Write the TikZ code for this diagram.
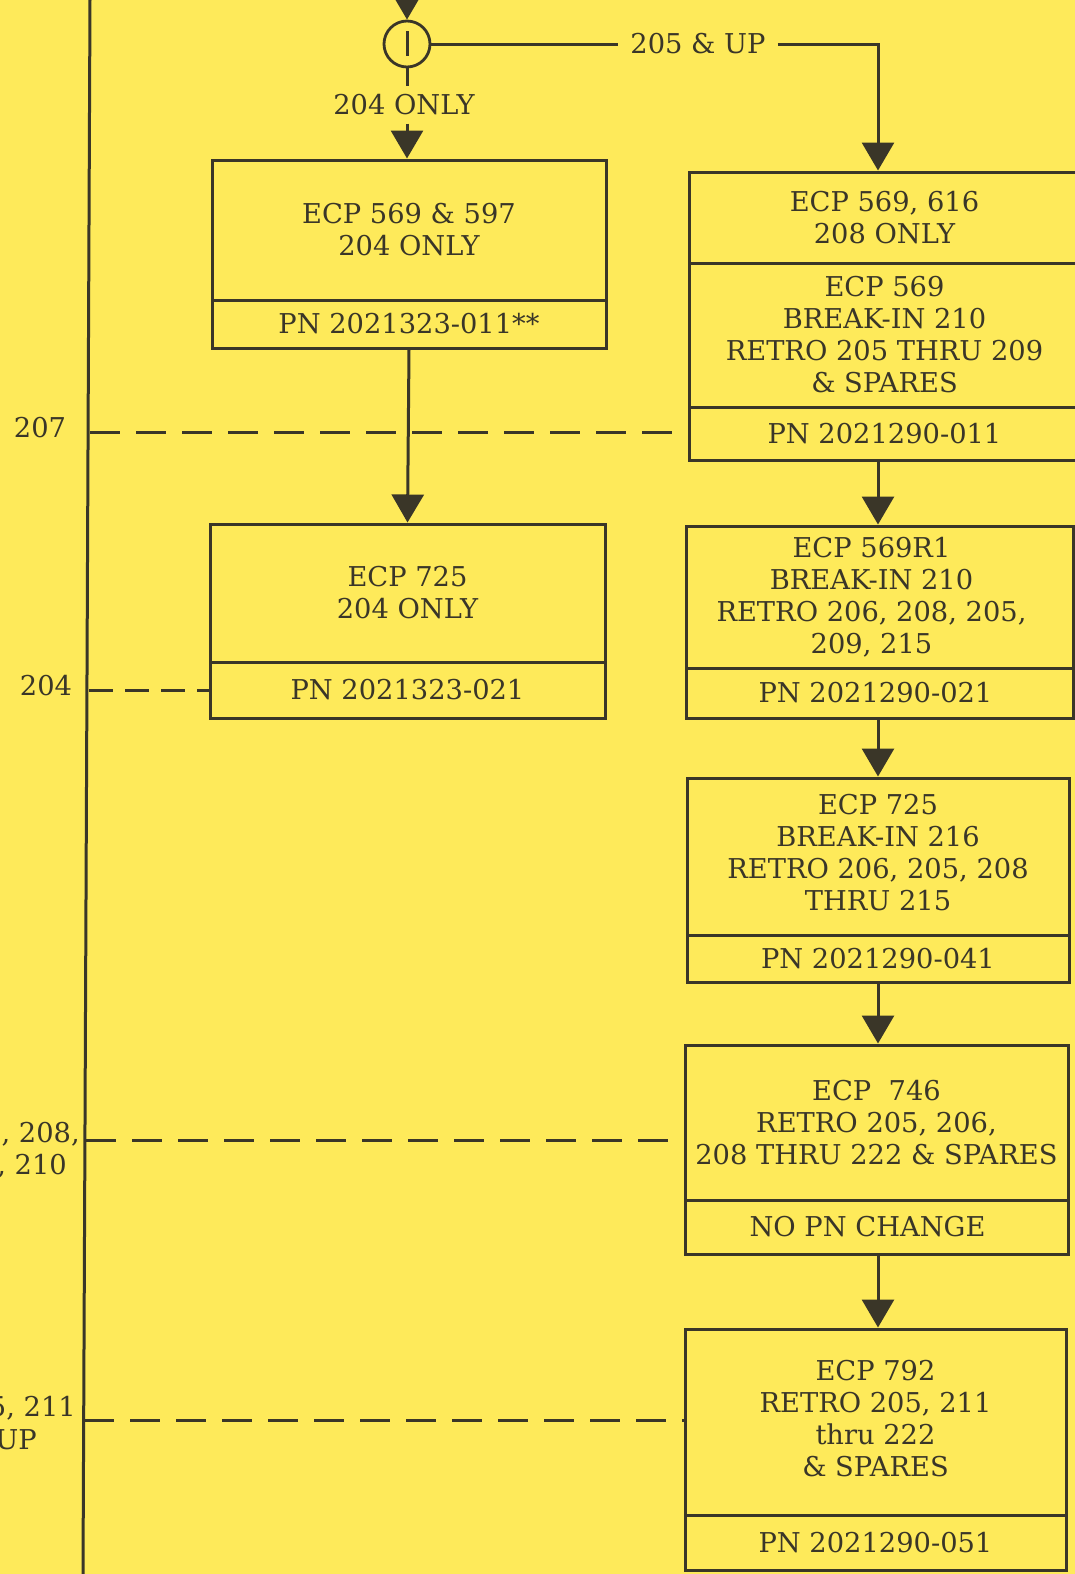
\documentclass[tikz,border=0pt]{standalone}
\usepackage{fontspec}
\setmainfont{DejaVu Serif}
\usetikzlibrary{arrows.meta,calc}
\definecolor{paper}{RGB}{254,234,90}
\definecolor{ink}{RGB}{58,54,40}
\begin{document}
\begin{tikzpicture}[x=1pt,y=-1pt,
  every node/.style={text=ink,font=\fontsize{27.3}{32}\selectfont},
  cell/.style={draw=ink,line width=3pt,rectangle,inner sep=0pt,align=center},
  ln/.style={draw=ink,line width=3pt},
  arr/.style={ln,-{Triangle[width=32pt,length=28pt]}},
  dsh/.style={ln,dash pattern=on 30pt off 16pt},
  lbl/.style={inner sep=0pt}]
\fill[paper] (0,0) rectangle (1075,1574);
\useasboundingbox (0,0) rectangle (1075,1574);
\clip (0,0) rectangle (1075,1574);

% left vertical line
\coordinate (vtop) at (90,0);
\coordinate (vbot) at (83,1574);
\draw[ln] (vtop) -- (vbot);

% switch circle
\node[draw=ink,line width=2.8pt,circle,minimum size=46pt,inner sep=0pt] (sw) at (407,44) {};
\draw[ln] ([yshift=13pt]sw.center) -- ([yshift=-12pt]sw.center);
\coordinate (intop) at (407,-40);
\draw[arr] (intop) -- (sw.north);

\node[lbl,inner xsep=12pt] (up) at (698,44) {205 \& UP};
\node[lbl,inner ysep=8pt] (only) at (404,105) {204 ONLY};

% left column
\node[cell,minimum width=394pt,minimum height=140pt] (L1a) at (409,230) {ECP 569 \& 597\\204 ONLY};
\node[cell,minimum width=394pt,minimum height=48pt] (L1b) at (409,324) {PN 2021323-011**};
\node[cell,minimum width=395pt,minimum height=138pt] (L2a) at (407.5,593) {ECP 725\\204 ONLY};
\node[cell,minimum width=395pt,minimum height=56pt] (L2b) at (407.5,690) {PN 2021323-021};

% right column
\node[cell,minimum width=391pt,minimum height=91pt] (A1) at (884.5,217.5) {ECP 569, 616\\208 ONLY};
\node[cell,minimum width=391pt,minimum height=144pt] (A2) at (884.5,335) {ECP 569\\BREAK-IN 210\\RETRO 205 THRU 209\\\& SPARES};
\node[cell,minimum width=391pt,minimum height=53pt] (A3) at (884.5,433.5) {PN 2021290-011};

\node[cell,minimum width=387pt,minimum height=142pt] (B1) at (879.5,597) {\hspace*{-16pt}ECP 569R1\\\hspace*{-16pt}BREAK-IN 210\\\hspace*{-16pt}RETRO 206, 208, 205,\\\hspace*{-16pt}209, 215};
\node[cell,minimum width=387pt,minimum height=50pt] (B2) at (879.5,693) {\hspace*{-8pt}PN 2021290-021};

\node[cell,minimum width=382pt,minimum height=157pt] (C1) at (878,856.5) {\raisebox{6pt}{\begin{tabular}{@{}c@{}}ECP 725\\BREAK-IN 216\\RETRO 206, 205, 208\\THRU 215\end{tabular}}};
\node[cell,minimum width=382pt,minimum height=47pt] (C2) at (878,958.5) {PN 2021290-041};

\node[cell,minimum width=383pt,minimum height=155pt] (D1) at (876.5,1122.5) {ECP~~746\\RETRO 205, 206,\\208 THRU 222 \& SPARES};
\node[cell,minimum width=383pt,minimum height=54pt] (D2) at (876.5,1227) {\hspace*{-18pt}NO PN CHANGE};

\node[cell,minimum width=381pt,minimum height=186pt] (E1) at (875.5,1422) {\raisebox{-6pt}{\begin{tabular}{@{}c@{}}ECP 792\\RETRO 205, 211\\thru 222\\\& SPARES\end{tabular}}};
\node[cell,minimum width=381pt,minimum height=55pt] (E2) at (875.5,1542.5) {PN 2021290-051};

% connectors from switch
\coordinate (rx) at (878,0);
\draw[ln] (sw.east) -- (up.west);
\draw[arr] (up.east) -- (up.east -| rx) -- (A1.north -| rx);
\draw[ln] (sw.south) -- (only.north -| sw.south);
\draw[arr] (only.south -| sw.south) -- (L1a.north -| sw.south);

% left column flow
\draw[arr] (L1b.south) -- (L2a.north);

% right column flow
\draw[arr] (A3.south -| rx) -- (B1.north -| rx);
\draw[arr] (B2.south -| rx) -- (C1.north -| rx);
\draw[arr] (C2.south -| rx) -- (D1.north -| rx);
\draw[arr] (D2.south -| rx) -- (E1.north -| rx);

% dashed effectivity lines
\coordinate (d207) at (90,432);
\coordinate (d204) at (89,690);
\coordinate (d210) at (86,1140);
\coordinate (d211) at (84,1420);
\draw[dsh] (d207) -- (d207 -| A3.west);
\draw[ln,dash pattern=on 24pt off 12pt] (d204) -- (d204 -| L2b.west);
\draw[dsh] (d210) -- (d210 -| D1.west);
\draw[dsh] (d211) -- (d211 -| E1.west);

% effectivity labels
\node[lbl] (t207) at (40,428) {207};
\node[lbl] (t204) at (46,686) {204};
\node[lbl,anchor=east] (t208) at (80,1134) {206, 208,};
\node[lbl,anchor=east] (t210) at (67,1166) {209, 210};
\node[lbl,anchor=east] (t211) at (76,1408) {205, 211};
\node[lbl,anchor=east] (tup) at (37,1440) {\& UP};
\end{tikzpicture}
\end{document}
